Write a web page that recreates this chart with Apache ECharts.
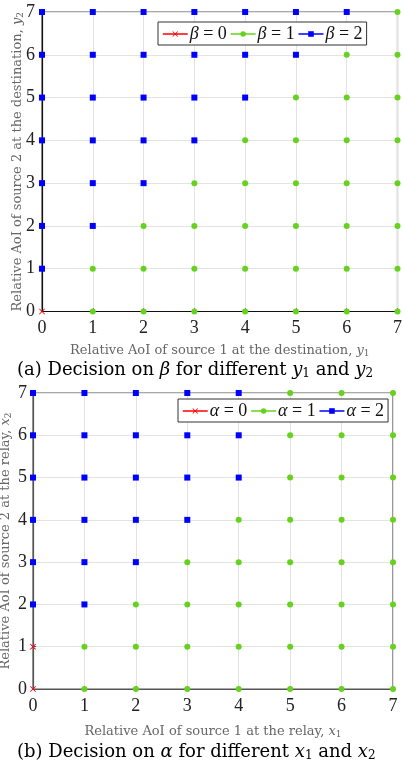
<!DOCTYPE html>
<html>
<head>
<meta charset="utf-8">
<script src="https://cdn.jsdelivr.net/npm/echarts@6/dist/echarts.min.js"></script>
<style>
html, body { margin: 0; padding: 0; background: #fff; }
#chart { width: 402px; height: 762px; }
</style>
</head>
<body>
<div id="chart"></div>
<script>
var ticks = [0, 1, 2, 3, 4, 5, 6, 7];

// decision per grid point, one row per y value (row 0 = y 0), one column per x value
var betaDecision = [
	[0, 1, 1, 1, 1, 1, 1, 1],
	[2, 1, 1, 1, 1, 1, 1, 1],
	[2, 2, 1, 1, 1, 1, 1, 1],
	[2, 2, 2, 1, 1, 1, 1, 1],
	[2, 2, 2, 2, 1, 1, 1, 1],
	[2, 2, 2, 2, 2, 1, 1, 1],
	[2, 2, 2, 2, 2, 2, 1, 1],
	[2, 2, 2, 2, 2, 2, 2, 1]
];
var alphaDecision = [
	[0, 1, 1, 1, 1, 1, 1, 1],
	[0, 1, 1, 1, 1, 1, 1, 1],
	[2, 2, 1, 1, 1, 1, 1, 1],
	[2, 2, 2, 1, 1, 1, 1, 1],
	[2, 2, 2, 2, 1, 1, 1, 1],
	[2, 2, 2, 2, 2, 1, 1, 1],
	[2, 2, 2, 2, 2, 1, 1, 1],
	[2, 2, 2, 2, 2, 1, 1, 1]
];
var decisionValues = [0, 1, 2];
var betaNames = ['β = 0', 'β = 1', 'β = 2'];
var alphaNames = ['α = 0', 'α = 1', 'α = 2'];

var colors = ['#ff0000', '#66d21e', '#0000ff'];
var crossPath = 'path://M0,1L1,0L5,4L9,0L10,1L6,5L10,9L9,10L5,6L1,10L0,9L4,5Z';
var symbols = [crossPath, 'circle', 'rect'];
var symbolSizes = [6, 6, 6];
var serif = "'Liberation Serif', 'DejaVu Serif', serif";
var wideSerif = "'DejaVu Serif', serif";

function pointsFor( matrix, value ) {
	var pts = [];
	for (var y = 0; y < matrix.length; y++) {
		for (var x = 0; x < matrix[y].length; x++) {
			if (matrix[y][x] === value) pts.push([ticks[x], ticks[y]]);
		}
	}
	return pts;
}

function makeSeries( matrix, names, idx ) {
	return decisionValues.map(function (v, i) {
		return {
			name: names[i],
			type: 'line',
			xAxisIndex: idx,
			yAxisIndex: idx,
			data: pointsFor(matrix, v),
			symbol: symbols[i],
			symbolSize: symbolSizes[i],
			showAllSymbol: true,
			clip: false,
			lineStyle: { width: 0, opacity: 0 },
			itemStyle: { color: colors[i] },
			z: 3 + i
		};
	});
}

function legendFor( names, left, top ) {
	return {
		data: names,
		left: left,
		top: top,
		orient: 'horizontal',
		backgroundColor: '#fff',
		borderColor: '#333',
		borderWidth: 1,
		padding: [3, 4, 2, 4],
		itemGap: 3,
		itemWidth: 25,
		itemHeight: 7,
		lineStyle: { width: 1.5, opacity: 1 },
		textStyle: {
			fontFamily: serif, fontSize: 18, color: '#111', padding: [0, 0, 0, -3],
			rich: { i: { fontFamily: serif, fontSize: 18, fontStyle: 'italic', color: '#111' } }
		},
		formatter: function (n) { return '{i|' + n.charAt(0) + '}' + n.slice(1); }
	};
}

function valueAxis( idx, name, nameGap, lineColor, labelMargin ) {
	return {
		type: 'value',
		gridIndex: idx,
		min: 0, max: 7, interval: 1,
		name: name,
		nameLocation: 'middle',
		nameGap: nameGap,
		nameMoveOverlap: false,
		nameTextStyle: {
			fontFamily: wideSerif, fontSize: 13, color: '#666',
			rich: {
				v: { fontFamily: wideSerif, fontSize: 13, fontStyle: 'italic', color: '#666' },
				s: { fontFamily: wideSerif, fontSize: 9, color: '#666', padding: [6, 0, 0, 0] }
			}
		},
		axisLine: { show: true, lineStyle: { color: lineColor, width: 1.2 } },
		axisTick: { show: true, inside: true, length: 3, lineStyle: { color: lineColor } },
		axisLabel: { fontFamily: serif, fontSize: 18, color: '#222', margin: labelMargin },
		splitLine: { show: true, lineStyle: { color: '#e3e3e3', width: 1 } }
	};
}

var captionRich = {
	i: { fontFamily: wideSerif, fontSize: 18, fontStyle: 'italic', color: '#000' },
	s: { fontFamily: wideSerif, fontSize: 12, color: '#000', padding: [8, 0, 0, 0] }
};

var chart = echarts.init(document.getElementById('chart'));
var option = {
	animation: false,
	backgroundColor: '#fff',
	grid: [
		{ left: 42, right: 4.5, top: 12, bottom: 450.5, outerBoundsMode: 'none', show: true, borderColor: '#555', borderWidth: 1.2 },
		{ left: 33, right: 9, top: 393, bottom: 73, outerBoundsMode: 'none', show: true, borderColor: '#555', borderWidth: 1.2 }
	],
	xAxis: [
		valueAxis(0, 'Relative AoI of source 1 at the destination, {v|y}{s|1}', 32, '#111', 8),
		valueAxis(1, 'Relative AoI of source 1 at the relay, {v|x}{s|1}', 35, '#555', 8)
	],
	yAxis: [
		valueAxis(0, 'Relative AoI of source 2 at the destination, {v|y}{s|2}', 17, '#111', 7),
		valueAxis(1, 'Relative AoI of source 2 at the relay, {v|x}{s|2}', 20, '#555', 6)
	],
	legend: [
		legendFor(betaNames, 158, 22),
		legendFor(alphaNames, 178, 399)
	],
	title: [
		{
			text: '(a) Decision on {i|β} for different {i|y}{s|1} and {i|y}{s|2}',
			left: 12, top: 355,
			textStyle: { fontFamily: wideSerif, fontSize: 18, fontWeight: 'normal', color: '#000', rich: captionRich }
		},
		{
			text: '(b) Decision on {i|α} for different {i|x}{s|1} and {i|x}{s|2}',
			left: 12, top: 737,
			textStyle: { fontFamily: wideSerif, fontSize: 18, fontWeight: 'normal', color: '#000', rich: captionRich }
		}
	],
	series: makeSeries(betaDecision, betaNames, 0).concat(makeSeries(alphaDecision, alphaNames, 1))
};
chart.setOption(option);
</script>
</body>
</html>
